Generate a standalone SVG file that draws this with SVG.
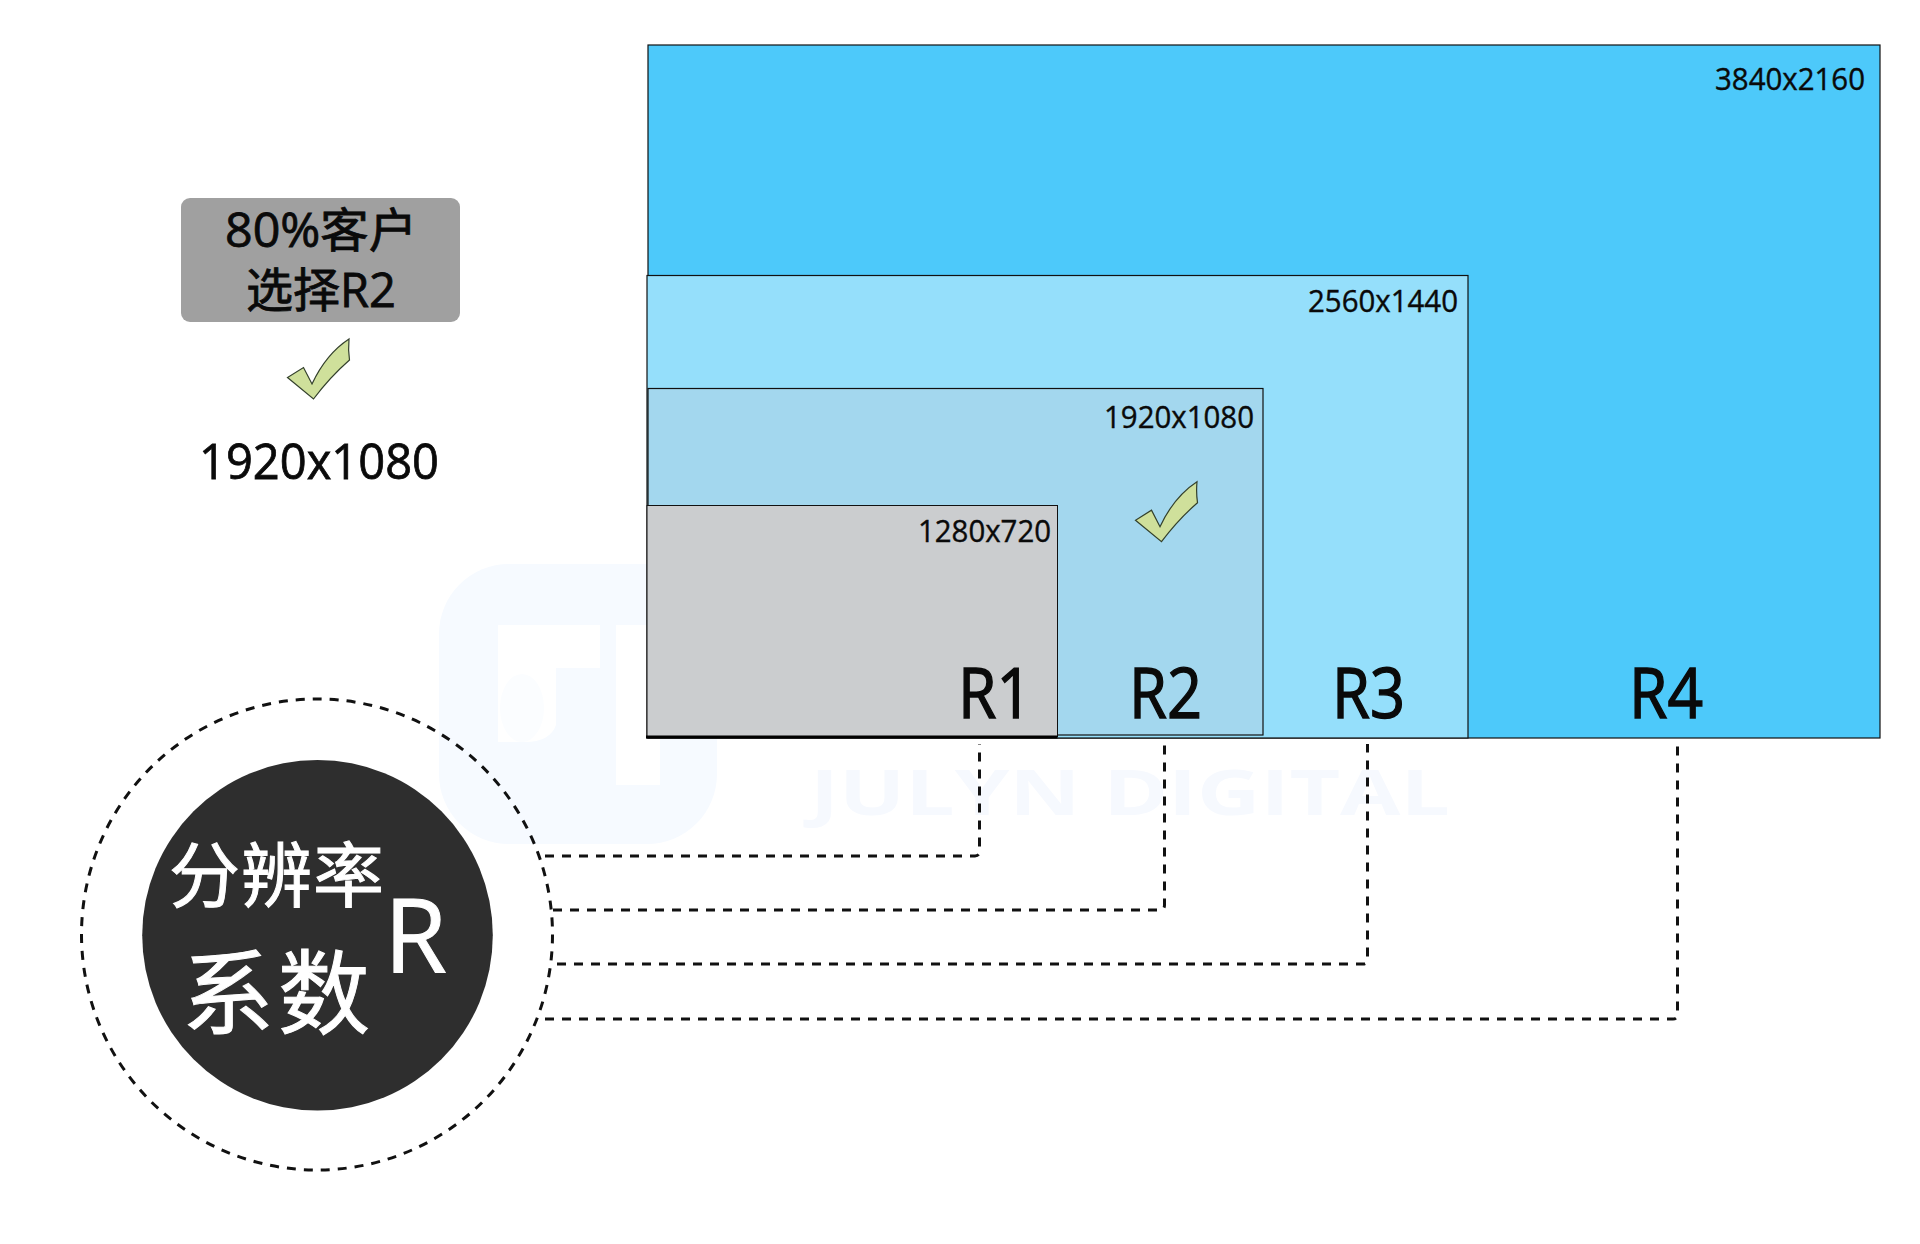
<svg xmlns="http://www.w3.org/2000/svg" width="1920" height="1244" viewBox="0 0 1920 1244">
  <style>
    text { font-family: "Open Sans", "Noto Sans CJK SC", sans-serif; fill: #0a0a0a; }
    .cjk { font-family: "Noto Sans CJK SC", "Open Sans", sans-serif; }
    .small { font-size: 31px; stroke: #0a0a0a; stroke-width: 0.4; }
    .big { font-size: 70px; stroke: #0a0a0a; stroke-width: 1.4; }
    .mid { stroke: #0a0a0a; stroke-width: 0.8; }
    .white { fill: #fff; stroke: #fff; stroke-width: 1; }
    .panel { stroke: #111; stroke-width: 1.2; }
    .dash { fill: none; stroke: #111; stroke-width: 3; stroke-dasharray: 9 8; }
    .check { fill: #cfe09b; stroke: #33402c; stroke-width: 1.2; stroke-linejoin: miter; }
  </style>
  <defs>
    <path id="tick" class="check" d="M349 339 Q348 350 349.500 360 Q330 377 313.500 399 L287.500 377.500 L303.500 367.500 L312 384 Q326 354 349 339 Z"/>
  </defs>
  <rect width="1920" height="1244" fill="#fff"/>

  <g id="watermark">
    <rect x="439" y="564" width="278" height="280" rx="70" fill="#f6faff"/>
    <path d="M498 625 H600 V668 H556 V725 Q550 742 525 742 H498 Z" fill="#fff"/>
    <ellipse cx="522" cy="708" rx="22" ry="34" fill="#fbfdff"/>
    <rect x="616" y="625" width="44" height="160" fill="#fff"/>
    <text x="810" y="815" font-size="62" font-weight="700" textLength="640" lengthAdjust="spacingAndGlyphs" style="fill:#f6f9fe">JULYN DIGITAL</text>
  </g>

  <g id="node-r4">
    <rect class="panel" x="648" y="45" width="1232" height="693" fill="#4dc9fa"/>
    <text class="small" x="1715" y="89.500" textLength="150" lengthAdjust="spacingAndGlyphs">3840x2160</text>
    <text class="big" x="1629" y="717.500" textLength="74" lengthAdjust="spacingAndGlyphs">R4</text>
  </g>
  <g id="node-r3">
    <rect class="panel" x="647" y="275.500" width="821" height="462.500" fill="#95dffb"/>
    <text class="small" x="1308" y="312" textLength="150" lengthAdjust="spacingAndGlyphs">2560x1440</text>
    <text class="big" x="1332" y="717.500" textLength="73" lengthAdjust="spacingAndGlyphs">R3</text>
  </g>
  <g id="node-r2">
    <rect class="panel" x="648" y="388.500" width="615" height="346.500" fill="#a3d7ee"/>
    <text class="small" x="1104" y="427.500" textLength="150" lengthAdjust="spacingAndGlyphs">1920x1080</text>
    <use href="#tick" x="848" y="142.700"/>
    <text class="big" x="1129" y="717.500" textLength="73" lengthAdjust="spacingAndGlyphs">R2</text>
  </g>
  <g id="node-r1">
    <rect x="647" y="505.500" width="410.500" height="231" fill="#cbcdcf" stroke="#111" stroke-width="1"/>
    <path d="M646 737 H1057.500" stroke="#000" stroke-width="3" fill="none"/>
    <text class="small" x="918" y="542" textLength="133" lengthAdjust="spacingAndGlyphs">1280x720</text>
    <text class="big" x="958" y="717.500" textLength="74" lengthAdjust="spacingAndGlyphs">R1</text>
  </g>

  <g id="node-callout">
    <rect x="181" y="198" width="279" height="124" rx="9" fill="#a0a0a0"/>
    <text class="mid" x="225" y="247" font-size="47" textLength="192" lengthAdjust="spacingAndGlyphs">80%客户</text>
    <text class="mid" x="246" y="307" font-size="47" textLength="150" lengthAdjust="spacingAndGlyphs">选择R2</text>
  </g>
  <g id="node-choice">
    <use href="#tick"/>
    <text class="mid" x="199" y="479" font-size="50" textLength="240" lengthAdjust="spacingAndGlyphs">1920x1080</text>
  </g>

  <g id="node-coefficient">
    <circle class="dash" cx="317" cy="934.500" r="235.500"/>
    <circle cx="317.500" cy="935.300" r="175.300" fill="#2e2e2e"/>
    <text class="cjk white" x="169" y="901" font-size="71" textLength="215">分辨率</text>
    <text class="cjk white" x="182" y="1027" font-size="92" textLength="188">系数</text>
    <text class="white" x="384" y="973" font-size="102">R</text>
  </g>

  <g id="connectors">
    <path class="dash" d="M545 856 H975 Q979.500 856 979.500 851 V744"/>
    <path class="dash" d="M553 910 H1160 Q1164.500 910 1164.500 905 V744"/>
    <path class="dash" d="M557 964 H1363 Q1367.500 964 1367.500 959 V744"/>
    <path class="dash" d="M545 1019 H1673 Q1677.500 1019 1677.500 1014 V744"/>
  </g>
</svg>
